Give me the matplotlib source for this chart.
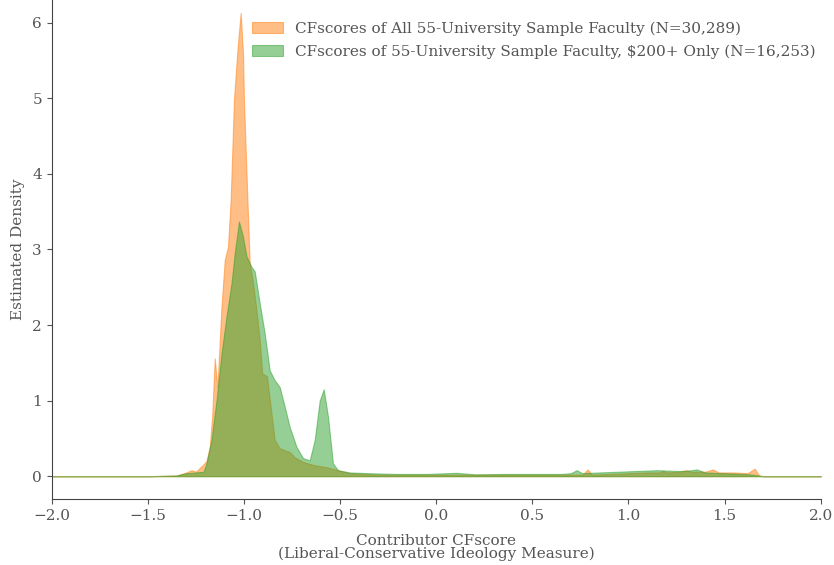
import numpy as np
import matplotlib
matplotlib.use("Agg")
import matplotlib.pyplot as plt

# Density curve for all faculty (orange)
x_all = [-2.0, -1.5, -1.35, -1.3, -1.273, -1.25, -1.213, -1.195, -1.178, -1.165, -1.152, -1.138,
         -1.117, -1.10, -1.083, -1.069, -1.052, -1.034, -1.017, -1.005, -1.0, -0.982, -0.97,
         -0.955, -0.935, -0.918, -0.905, -0.892, -0.88, -0.857, -0.84, -0.814, -0.762, -0.736,
         -0.693, -0.64, -0.571, -0.512, -0.45, -0.3, -0.1,
         0.1, 0.3, 0.5, 0.7, 0.76, 0.788, 0.81, 0.9, 1.0, 1.1, 1.16, 1.18, 1.2, 1.27, 1.30,
         1.33, 1.40, 1.44, 1.47, 1.55, 1.62, 1.657, 1.68, 1.7, 2.0]
y_all = [0.0, 0.0, 0.01, 0.05, 0.08, 0.06, 0.15, 0.2, 0.39, 0.8, 1.56, 1.18,
         2.24, 2.86, 3.04, 3.66, 4.98, 5.64, 6.13, 5.6, 4.98, 3.66, 2.82,
         2.6, 2.2, 1.8, 1.36, 1.34, 1.32, 0.83, 0.48, 0.37, 0.32, 0.25,
         0.19, 0.15, 0.12, 0.08, 0.04, 0.02, 0.02,
         0.02, 0.02, 0.02, 0.02, 0.02, 0.09, 0.02, 0.03, 0.04, 0.05, 0.05, 0.07, 0.05, 0.06, 0.08,
         0.06, 0.06, 0.09, 0.05, 0.05, 0.04, 0.10, 0.01, 0.0, 0.0]

# Density curve for $200+ donors (green)
x_200 = [-2.0, -1.5, -1.35, -1.3, -1.25, -1.21, -1.195, -1.169, -1.143, -1.117, -1.091, -1.065,
         -1.048, -1.026, -1.005, -0.987, -0.961, -0.944, -0.918, -0.892, -0.866, -0.84, -0.814,
         -0.788, -0.762, -0.727, -0.693, -0.658, -0.632, -0.606, -0.585, -0.563, -0.537, -0.511,
         -0.45, -0.35, -0.2, -0.05, 0.107, 0.2, 0.35, 0.5, 0.65, 0.70, 0.731, 0.76, 0.85,
         0.95, 1.05, 1.15, 1.25, 1.30, 1.355, 1.40, 1.5, 1.6, 1.65, 1.7, 2.0]
y_200 = [0.0, 0.0, 0.01, 0.04, 0.05, 0.06, 0.17, 0.48, 1.0, 1.62, 2.11, 2.55,
         2.95, 3.37, 3.17, 2.91, 2.77, 2.71, 2.29, 1.89, 1.40, 1.27, 1.18,
         0.92, 0.65, 0.39, 0.24, 0.21, 0.48, 1.0, 1.15, 0.79, 0.17, 0.08,
         0.05, 0.04, 0.03, 0.03, 0.045, 0.025, 0.03, 0.03, 0.03, 0.04, 0.08, 0.04, 0.05,
         0.06, 0.07, 0.08, 0.07, 0.07, 0.09, 0.05, 0.04, 0.03, 0.02, 0.0, 0.0]

labels = ["CFscores of All 55-University Sample Faculty (N=30,289)",
          "CFscores of 55-University Sample Faculty, $200+ Only (N=16,253)"]
xticks = [-2.0, -1.5, -1.0, -0.5, 0.0, 0.5, 1.0, 1.5, 2.0]
yticks = [0, 1, 2, 3, 4, 5, 6]

plt.rcParams['font.family'] = ['DejaVu Serif']
plt.rcParams['text.color'] = '#555555'
plt.rcParams['axes.labelcolor'] = '#555555'
plt.rcParams['xtick.color'] = '#555555'
plt.rcParams['ytick.color'] = '#555555'

fig = plt.figure(figsize=(8.34, 5.65), dpi=100)
ax = fig.add_axes([0.062, 0.117, 0.922, 0.883])

ax.fill_between(x_all, y_all, color='#ff7f0e', alpha=0.5, lw=0.8, label=labels[0])
ax.fill_between(x_200, y_200, color='#2ca02c', alpha=0.5, lw=0.8, label=labels[1])

ax.set_xlim(-2.0, 2.0)
ax.set_ylim(-0.3, 6.3)
ax.set_xticks(xticks)
ax.set_yticks(yticks)
ax.tick_params(labelsize=11)

ax.set_xlabel("Contributor CFscore\n(Liberal-Conservative Ideology Measure)", fontsize=11,
              linespacing=0.9, labelpad=8)
ax.set_ylabel("Estimated Density", fontsize=11, labelpad=5)

for s in ['top', 'right']:
    ax.spines[s].set_visible(False)
for s in ['left', 'bottom']:
    ax.spines[s].set_color('#444444')

leg = ax.legend(loc='upper left', bbox_to_anchor=(0.243, 0.984), frameon=False, fontsize=11,
                handlelength=2.0, handletextpad=0.8, labelspacing=0.56)

fig.savefig("out.png", dpi=100)
